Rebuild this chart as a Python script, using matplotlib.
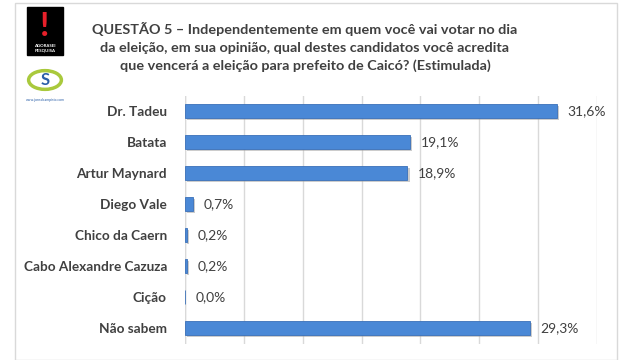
import matplotlib.pyplot as plt
import matplotlib.patheffects as pe
from matplotlib.patches import Rectangle, Circle

candidatos = ["Dr. Tadeu", "Batata", "Artur Maynard", "Diego Vale",
              "Chico da Caern", "Cabo Alexandre Cazuza", "Cição", "Não sabem"]
percentuais = [31.6, 19.1, 18.9, 0.7, 0.2, 0.2, 0.0, 29.3]
rotulos = ["31,6%", "19,1%", "18,9%", "0,7%", "0,2%", "0,2%", "0,0%", "29,3%"]

titulo = ("QUESTÃO 5 – Independentemente em quem você vai votar no dia\n"
          "da eleição, em sua opinião, qual destes candidatos você acredita\n"
          "que vencerá a eleição para prefeito de Caicó? (Estimulada)")

plt.rcParams['font.family'] = ['Lato', 'DejaVu Sans']

fig = plt.figure(figsize=(6.3, 3.6), dpi=100)
fig.patch.set_facecolor('white')

# moldura
fig.add_artist(Rectangle((15 / 630, 0), 602 / 630, 357 / 360, transform=fig.transFigure,
                         fill=False, edgecolor='#d9d9d9', lw=1))

ax = fig.add_axes([185 / 630, 16.5 / 360, 412 / 630, 248 / 360])
y = list(range(len(candidatos)))
bars = ax.barh(y, percentuais, height=0.45, color='#4a88d6', edgecolor='#3a70b8',
               lw=0.6, zorder=3)
for b in bars:
    b.set_path_effects([pe.SimplePatchShadow(offset=(1.5, -1.5), shadow_rgbFace='#9a9a9a',
                                             alpha=0.5), pe.Normal()])
for yi, v, lab in zip(y, percentuais, rotulos):
    ax.text(v + 0.9, yi, lab, va='center', ha='left', fontsize=10, color='#404040')

ax.set_xlim(0, 35)
ax.set_ylim(len(candidatos) - 0.5, -0.5)
ax.set_xticks([0, 5, 10, 15, 20, 25, 30, 35])
ax.xaxis.grid(True, color='#d9d9d9', lw=1, zorder=0)
ax.tick_params(axis='x', length=0, labelbottom=False)
ax.tick_params(axis='y', length=0, pad=13)
ax.set_yticks(y)
ax.set_yticklabels(candidatos, fontsize=9.8, fontweight='bold', color='#404040')
for s in ax.spines.values():
    s.set_visible(False)
ax.axvline(0, color='#d9d9d9', lw=1, zorder=1)

fig.text(305 / 630, 1 - 47 / 360, titulo, ha='center', va='center', fontsize=10.4,
         fontweight='bold', color='#404040', linespacing=1.55)

# logos (aproximação)
fig.add_artist(Rectangle((27 / 630, 1 - 55 / 360), 36 / 630, 48 / 360,
                         transform=fig.transFigure, color='black'))
fig.text(45 / 630, 1 - 27 / 360, "!", ha='center', va='center', fontsize=24,
         fontweight='bold', color='#e8202a')
fig.text(45 / 630, 1 - 48 / 360, "AGORASEI\nPESQUISA", ha='center', va='center',
         fontsize=3.2, fontweight='bold', color='white', linespacing=1.1)
fig.add_artist(Circle((45 / 630, 1 - 80 / 360), 0.026, transform=fig.transFigure,
                      fill=False, edgecolor='#a9c93c', lw=2.5))
fig.text(45 / 630, 1 - 80 / 360, "S", ha='center', va='center', fontsize=12,
         fontweight='bold', color='#2a5ea8')
fig.text(45 / 630, 1 - 100 / 360, "www.jornalcampista.com", ha='center', va='center',
         fontsize=2.5, color='#2a5ea8')

fig.savefig('out.png', dpi=100)
